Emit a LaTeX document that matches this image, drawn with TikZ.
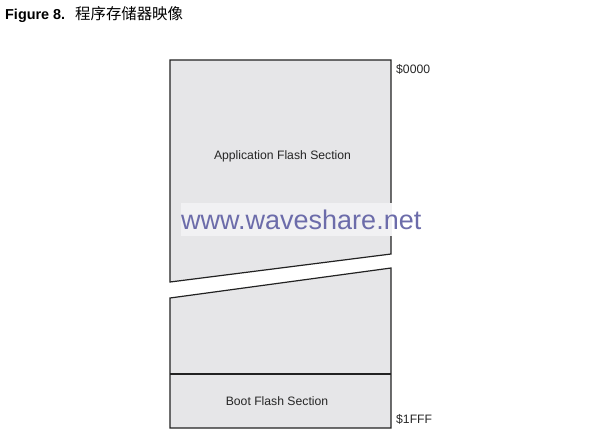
\documentclass[tikz,border=0pt]{standalone}
\usepackage{fontspec}
\setmainfont{Liberation Sans}
\newfontfamily\cjk{Noto Sans CJK SC}
\definecolor{memfill}{HTML}{E6E6E8}
\definecolor{wmbg}{HTML}{F1F1F3}
\definecolor{wmtext}{HTML}{6C6CAA}
\definecolor{edge}{HTML}{222222}
\begin{document}
\begin{tikzpicture}[x=1pt,y=-1pt,
  mem/.style={fill=memfill,draw=edge,line width=1.2pt,line join=miter},
  lbl/.style={font=\fontsize{12.2}{14}\selectfont,inner sep=0pt,text=black!85},
  addr/.style={font=\fontsize{12.2}{14}\selectfont,inner sep=0pt,anchor=west,text=black!85}]
\useasboundingbox (0,0) rectangle (602,440);
% title
\node[anchor=west,inner sep=0pt] (title) at (5,15) {\fontsize{14.4}{16}\selectfont\textbf{Figure 8.}\hspace{10pt}{\cjk\fontsize{15.4}{16}\selectfont 程序存储器映像}};
% upper block
\draw[mem] (170,60) -- (391,60) -- (391,254) -- (170,282) -- cycle;
% lower block
\draw[mem] (170,298) -- (391,268) -- (391,428) -- (170,428) -- cycle;
\draw[draw=edge,line width=1.2pt] (170,374) -- (391,374);
% watermark
\fill[wmbg] (181,203) rectangle (392,236);
\node[anchor=west,inner sep=0pt,text=wmtext,font=\fontsize{27}{30}\selectfont] (wm) at (181,220) {www.waveshare.net};
% labels
\node[lbl] (app) at (282.5,156) {Application Flash Section};
\node[lbl] (boot) at (277,401) {Boot Flash Section};
\node[addr] (a0) at (396,69) {\$0000};
\node[addr] (a1) at (396,419) {\$1FFF};
\end{tikzpicture}
\end{document}
